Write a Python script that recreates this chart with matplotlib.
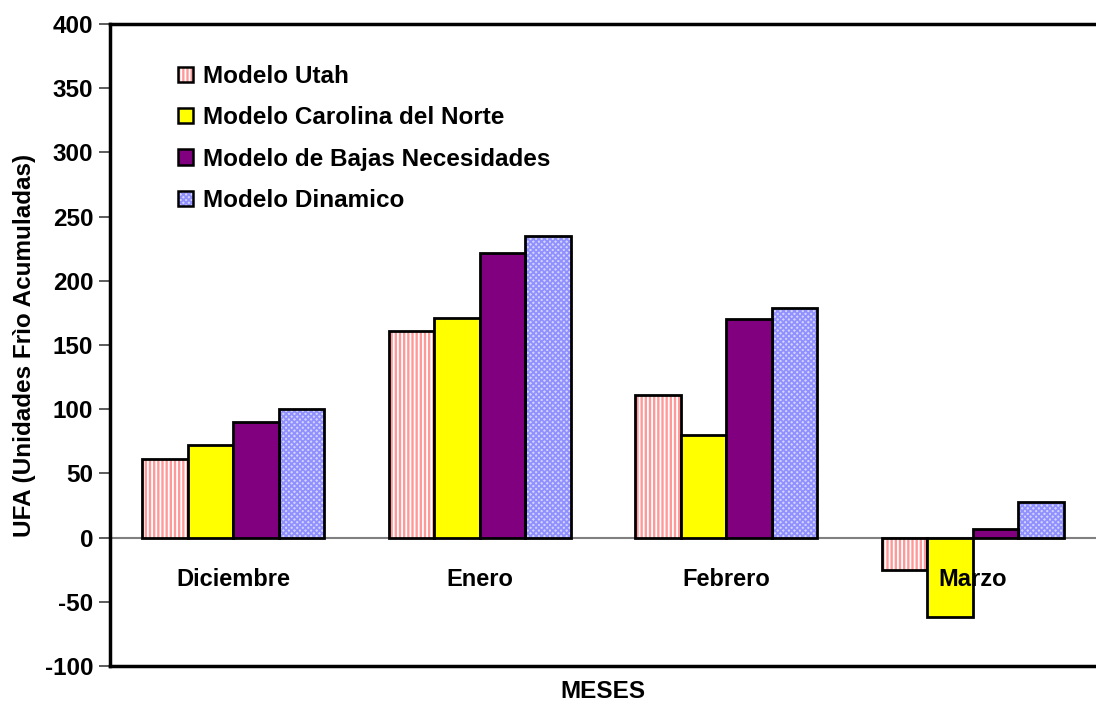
import matplotlib
matplotlib.use("Agg")
import matplotlib.pyplot as plt
from matplotlib.patches import Patch, Rectangle
from matplotlib.legend_handler import HandlerBase
import numpy as np

plt.rcParams['font.family'] = ['Liberation Sans', 'DejaVu Sans']
plt.rcParams['font.weight'] = 'bold'
plt.rcParams['axes.unicode_minus'] = False

meses = ["Diciembre", "Enero", "Febrero", "Marzo"]
modelos = ["Modelo Utah", "Modelo Carolina del Norte",
           "Modelo de Bajas Necesidades", "Modelo Dinamico"]
utah = [61, 161, 111, -25]
carolina = [72, 171, 80, -62]
bajas = [90, 222, 170, 7]
dinamico = [100, 235, 179, 28]
yticks = [-100, -50, 0, 50, 100, 150, 200, 250, 300, 350, 400]

series = [utah, carolina, bajas, dinamico]
# (face colour, hatch, hatch colour)
styles = [("#ff9999", "||||", "#ffffff"),
          ("#ffff00", None, None),
          ("#800080", None, None),
          ("#d4d4ff", "xxxxxx", "#9090ff")]

plt.rcParams['hatch.linewidth'] = 1.3

fig = plt.figure(figsize=(10.96, 7.06), dpi=100)
ax = fig.add_axes([110 / 1096, 1 - 666 / 706, 1 - 110 / 1096, (666 - 24) / 706])

x = np.arange(len(meses))
w = 0.74 / 4
for k, (vals, (fc, hatch, hc)) in enumerate(zip(series, styles)):
    pos = x - 0.37 + w * (k + 0.5)
    if hatch:
        ax.bar(pos, vals, w, color=fc, hatch=hatch, edgecolor=hc, linewidth=0, zorder=2)
        ax.bar(pos, vals, w, fill=False, edgecolor="black", linewidth=2, zorder=3)
    else:
        ax.bar(pos, vals, w, color=fc, edgecolor="black", linewidth=2, zorder=3)

ax.axhline(0, color="#808080", lw=1.5, zorder=1)
ax.set_xlim(-0.5, 3.5)
ax.set_ylim(-100, 400)
ax.set_yticks(yticks)
ax.tick_params(axis='y', labelsize=17.5, length=8, width=1.2, color="#404040", pad=4)
ax.set_xticks([])
for lab in ax.get_yticklabels():
    lab.set_fontweight('bold')

for i, m in enumerate(meses):
    ax.text(i, -33, m, ha="center", va="center", fontsize=17, fontweight="bold", zorder=5)

ax.set_ylabel("UFA (Unidades Frìo Acumuladas)", fontsize=17.5, fontweight="bold", labelpad=6)
fig.text((110 + 1096) / 2 / 1096, 1 - 692 / 706, "MESES",
         ha="center", va="center", fontsize=17.5, fontweight="bold")

for s in ["left", "bottom", "top"]:
    ax.spines[s].set_linewidth(2.5)
    ax.spines[s].set_color("black")
ax.spines["right"].set_visible(False)


class SwatchHandler(HandlerBase):
    def __init__(self, fc, hatch, hc):
        super().__init__()
        self.fc, self.hatch, self.hc = fc, hatch, hc

    def create_artists(self, legend, orig_handle, xdescent, ydescent, width, height, fontsize, trans):
        s = 11
        x0 = width - s
        y0 = (height - s) / 2
        arts = []
        if self.hatch:
            arts.append(Rectangle((x0, y0), s, s, facecolor=self.fc, hatch=self.hatch,
                                  edgecolor=self.hc, linewidth=0, transform=trans))
            arts.append(Rectangle((x0, y0), s, s, fill=False, edgecolor="black",
                                  linewidth=1.8, transform=trans))
        else:
            arts.append(Rectangle((x0, y0), s, s, facecolor=self.fc, edgecolor="black",
                                  linewidth=1.8, transform=trans))
        return arts


handles = [Patch(label=m) for m in modelos]
hmap = {h: SwatchHandler(*st) for h, st in zip(handles, styles)}
leg = ax.legend(handles=handles, handler_map=hmap, loc="upper left",
                bbox_to_anchor=(0.046, 0.97), frameon=False,
                labelspacing=0.75, handlelength=0.65, handletextpad=0.4,
                prop={'weight': 'bold', 'size': 17.5})

fig.savefig("out.png", dpi=100)
